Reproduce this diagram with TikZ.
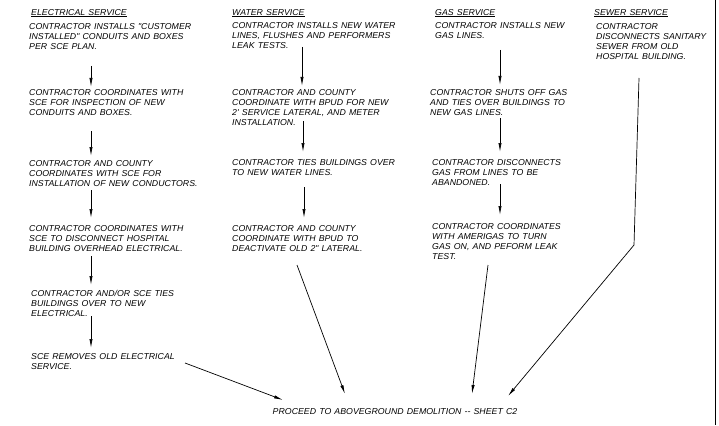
\documentclass[tikz,border=0pt]{standalone}
\usepackage{fontspec}
\newfontfamily\cad{Liberation Sans}[FakeStretch=1.02,WordSpace=1.3]
\usetikzlibrary{arrows.meta}
\begin{document}
\begin{tikzpicture}[x=1pt,y=-1pt,
  txt/.style={anchor=north west,inner sep=0pt,align=left,
    font=\cad\itshape\fontsize{8.6}{10}\selectfont},
  arr/.style={-{Latex[length=9pt,width=3.2pt]},line width=0.7pt},
  ln/.style={line width=0.7pt}]
\useasboundingbox (0,0) rectangle (719,425);
% border
\coordinate (bt) at (715,0);
\coordinate (bb) at (715,425);
\draw[ln] (bt) -- (bb);

% ELECTRICAL
\node[txt] (eh) at (31,9) {\underline{ELECTRICAL SERVICE}};
\node[txt] (e1) at (29,23) {CONTRACTOR INSTALLS "CUSTOMER\\INSTALLED" CONDUITS AND BOXES\\PER SCE PLAN.};
\node[txt] (e2) at (29,89) {CONTRACTOR COORDINATES WITH\\SCE FOR INSPECTION OF NEW\\CONDUITS AND BOXES.};
\node[txt] (e3) at (29,160) {CONTRACTOR AND COUNTY\\COORDINATES WITH SCE FOR\\INSTALLATION OF NEW CONDUCTORS.};
\node[txt] (e4) at (29,225) {CONTRACTOR COORDINATES WITH\\SCE TO DISCONNECT HOSPITAL\\BUILDING OVERHEAD ELECTRICAL.};
\node[txt] (e5) at (31,290) {CONTRACTOR AND/OR SCE TIES\\BUILDINGS OVER TO NEW\\ELECTRICAL.};
\node[txt] (e6) at (31,353) {SCE REMOVES OLD ELECTRICAL\\SERVICE.};
\coordinate (ea1) at (91,66);  \coordinate (eb1) at (91,87);
\coordinate (ea2) at (91,131); \coordinate (eb2) at (91,156);
\coordinate (ea3) at (91,190); \coordinate (eb3) at (91,218);
\coordinate (ea4) at (91,256); \coordinate (eb4) at (91,285);
\coordinate (ea5) at (91,316); \coordinate (eb5) at (91,348);
\draw[arr] (ea1) -- (eb1);
\draw[arr] (ea2) -- (eb2);
\draw[arr] (ea3) -- (eb3);
\draw[arr] (ea4) -- (eb4);
\draw[arr] (ea5) -- (eb5);

% WATER
\node[txt] (wh) at (232,9) {\underline{WATER SERVICE}};
\node[txt] (w1) at (232,22) {CONTRACTOR INSTALLS NEW WATER\\LINES, FLUSHES AND PERFORMERS\\LEAK TESTS.};
\node[txt] (w2) at (232,89) {CONTRACTOR AND COUNTY\\COORDINATE WITH BPUD FOR NEW\\2' SERVICE LATERAL, AND METER\\INSTALLATION.};
\node[txt] (w3) at (232,159) {CONTRACTOR TIES BUILDINGS OVER\\TO NEW WATER LINES.};
\node[txt] (w4) at (232,225) {CONTRACTOR AND COUNTY\\COORDINATE WITH BPUD TO\\DEACTIVATE OLD 2" LATERAL.};
\coordinate (wa1) at (302,47);  \coordinate (wb1) at (302,86);
\coordinate (wa2) at (303,121); \coordinate (wb2) at (303,152);
\coordinate (wa3) at (304,187); \coordinate (wb3) at (304,218);
\draw[arr] (wa1) -- (wb1);
\draw[arr] (wa2) -- (wb2);
\draw[arr] (wa3) -- (wb3);

% GAS
\node[txt] (gh) at (435,9) {\underline{GAS SERVICE}};
\node[txt] (g1) at (435,22) {CONTRACTOR INSTALLS NEW\\GAS LINES.};
\node[txt] (g2) at (430,89) {CONTRACTOR SHUTS OFF GAS\\AND TIES OVER BUILDINGS TO\\NEW GAS LINES.};
\node[txt] (g3) at (432,159) {CONTRACTOR DISCONNECTS\\GAS FROM LINES TO BE\\ABANDONED.};
\node[txt] (g4) at (432,223) {CONTRACTOR COORDINATES\\WITH AMERIGAS TO TURN\\GAS ON, AND PEFORM LEAK\\TEST.};
\coordinate (ga1) at (500,50);  \coordinate (gb1) at (500,85);
\coordinate (ga2) at (500,118); \coordinate (gb2) at (500,152);
\coordinate (ga3) at (500,184); \coordinate (gb3) at (500,215);
\draw[arr] (ga1) -- (gb1);
\draw[arr] (ga2) -- (gb2);
\draw[arr] (ga3) -- (gb3);

% SEWER
\node[txt] (sh) at (594,9) {\underline{SEWER SERVICE}};
\node[txt] (s1) at (596,23) {CONTRACTOR\\DISCONNECTS SANITARY\\SEWER FROM OLD\\HOSPITAL BUILDING.};

% FINAL
\node[font=\cad\itshape\fontsize{8.6}{10}\selectfont,inner sep=0pt] (p) at (395,412) {PROCEED TO ABOVEGROUND DEMOLITION -- SHEET C2};
\coordinate (ef) at (185,363); \coordinate (et) at (283,400);
\coordinate (wf) at (297,265); \coordinate (wt) at (345,394);
\coordinate (gf) at (488,265); \coordinate (gt) at (472,394);
\coordinate (sf) at (639,78);  \coordinate (sk) at (634,245); \coordinate (st) at (508,396);
\draw[arr] (ef) -- (et);
\draw[arr] (wf) -- (wt);
\draw[arr] (gf) -- (gt);
\draw[arr] (sf) -- (sk) -- (st);
\end{tikzpicture}
\end{document}
